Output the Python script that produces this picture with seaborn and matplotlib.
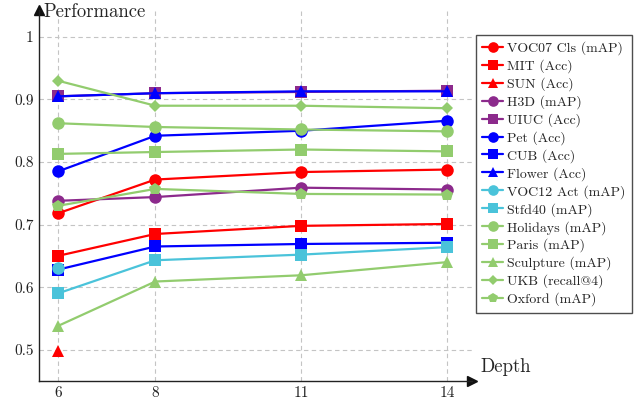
import numpy as np
import pandas as pd
import matplotlib
matplotlib.use("Agg")
import matplotlib.pyplot as plt
import seaborn as sns

depth = [6, 8, 11, 14]
nan = np.nan

names = ["VOC07 Cls (mAP)", "MIT (Acc)", "SUN (Acc)", "H3D (mAP)", "UIUC (Acc)",
         "Pet (Acc)", "CUB (Acc)", "Flower (Acc)", "VOC12 Act (mAP)", "Stfd40 (mAP)",
         "Holidays (mAP)", "Paris (mAP)", "Sculpture (mAP)", "UKB (recall@4)", "Oxford (mAP)"]

voc07 = [0.718, 0.772, 0.784, 0.788]
mit = [0.650, 0.685, 0.698, 0.701]
sun = [0.498, nan, nan, nan]
h3d = [0.738, 0.744, 0.759, 0.756]
uiuc = [0.905, 0.910, 0.912, 0.914]
pet = [0.785, 0.842, 0.850, 0.866]
cub = [0.628, 0.665, 0.669, 0.671]
flower = [0.905, 0.910, 0.913, 0.913]
voc12 = [0.630, nan, nan, nan]
stfd40 = [0.590, 0.643, 0.652, 0.664]
holidays = [0.862, 0.856, 0.852, 0.849]
paris = [0.813, 0.816, 0.820, 0.817]
sculpture = [0.538, 0.609, 0.619, 0.640]
ukb = [0.930, 0.890, 0.890, 0.886]
oxford = [0.730, 0.757, 0.749, 0.748]

series = [voc07, mit, sun, h3d, uiuc, pet, cub, flower, voc12, stfd40,
          holidays, paris, sculpture, ukb, oxford]

RED = "#ff0000"
PUR = "#8c2a8c"
BLU = "#0000ff"
CYA = "#4ac3da"
GRN = "#92cc6e"
colors = [RED, RED, RED, PUR, PUR, BLU, BLU, BLU, CYA, CYA, GRN, GRN, GRN, GRN, GRN]
markers = ["o", "s", "^", "o", "s", "o", "s", "^", "o", "s", "o", "s", "^", "D", "p"]

sns.set_theme(style="white")
plt.rcParams["font.family"] = ["serif"]
plt.rcParams["font.serif"] = ["cmr10", "DejaVu Serif"]
plt.rcParams["axes.formatter.use_mathtext"] = True

fig = plt.figure(figsize=(6.34, 4.0), dpi=100)
ax = fig.add_axes([39 / 634, 1 - 381 / 400, (472 - 39) / 634, (381 - 10) / 400])

handles = []
for name, vals, c, m in zip(names, series, colors, markers):
    df = pd.DataFrame({"Depth": depth, "val": vals}).dropna()
    ms = {"o": 9, "s": 9, "p": 9, "^": 8.5, "D": 6}[m]
    sns.lineplot(data=df, x="Depth", y="val", ax=ax, color=c, marker=m,
                 markersize=ms, markeredgewidth=0, linewidth=1.6, label=name,
                 legend=False)
    handles.append(ax.lines[-1])

ax.set_xlim(5.61, 14.51)
ax.set_ylim(0.45, 1.043)
ax.set_xticks(depth)
ax.set_xticklabels([str(d) for d in depth])
ax.set_yticks([0.5, 0.6, 0.7, 0.8, 0.9, 1.0])
ax.set_yticklabels(["0.5", "0.6", "0.7", "0.8", "0.9", "1"])
ax.tick_params(axis="both", labelsize=11, length=0, pad=4, colors="#222222")
ax.grid(True, linestyle=(0, (4, 3)), color="#c4c4c4", linewidth=0.8)
ax.set_axisbelow(True)
ax.set_xlabel("")
ax.set_ylabel("")
for s in ["top", "right"]:
    ax.spines[s].set_visible(False)
for s in ["left", "bottom"]:
    ax.spines[s].set_color("#222222")
    ax.spines[s].set_linewidth(1.0)
ax.plot(1, 0, ">", color="#111111", markersize=7, transform=ax.transAxes, clip_on=False)
ax.plot(0, 1, "^", color="#111111", markersize=7, transform=ax.transAxes, clip_on=False)

fig.text(43 / 634, 1 - 12 / 400, "Performance", fontsize=13.5, va="center", ha="left")
fig.text(480 / 634, 1 - 367 / 400, "Depth", fontsize=13.5, va="center", ha="left")

leg = fig.legend(handles=handles, labels=names, loc="upper left",
                 bbox_to_anchor=(476 / 634, 1 - 35 / 400), fontsize=10,
                 frameon=True, fancybox=False, edgecolor="#222222",
                 borderpad=0.45, labelspacing=0.3, handlelength=1.5,
                 handletextpad=0.3, borderaxespad=0, markerscale=0.85)
leg.get_frame().set_linewidth(1.0)

fig.savefig("out.png", dpi=100)
